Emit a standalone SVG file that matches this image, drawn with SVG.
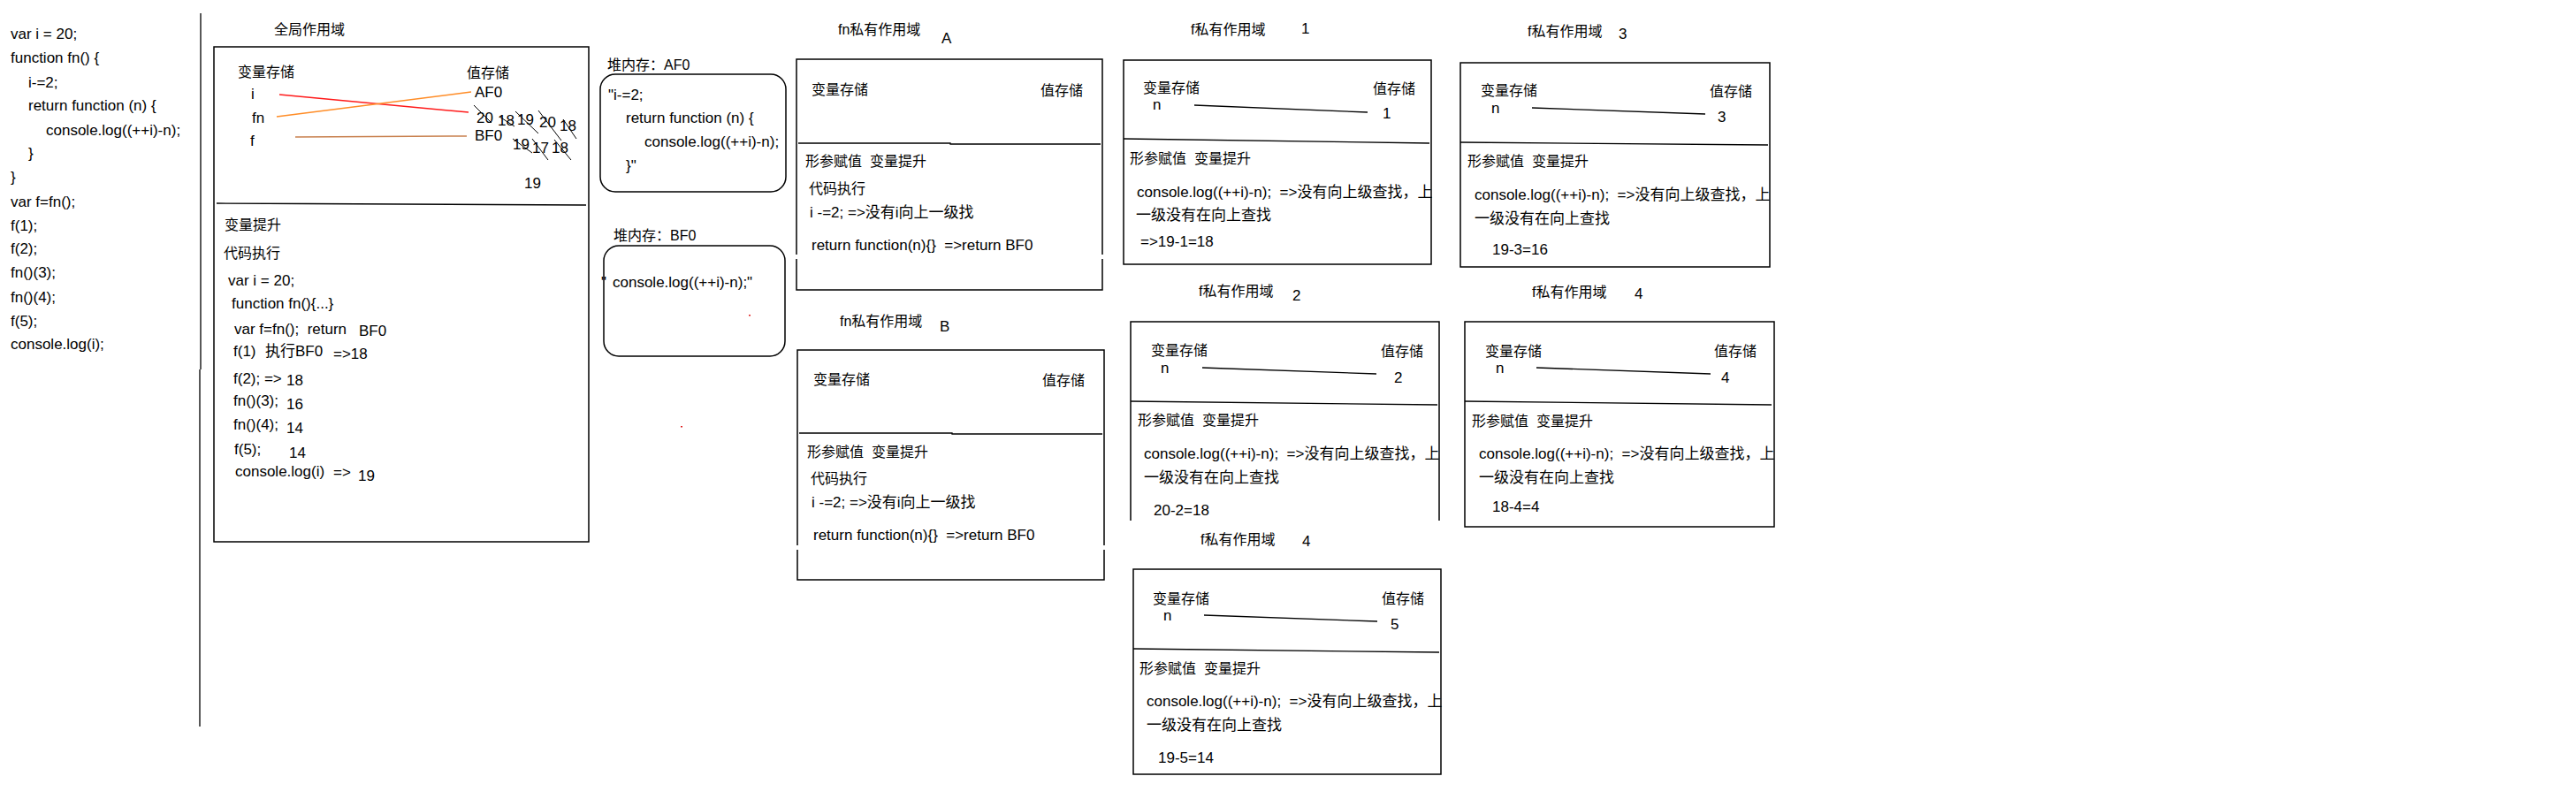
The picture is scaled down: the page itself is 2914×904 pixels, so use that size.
<svg xmlns="http://www.w3.org/2000/svg" width="2914" height="904" viewBox="0 0 2914 904" xml:space="preserve">
<style>
text{font-family:"Liberation Sans","Noto Sans CJK SC",sans-serif;font-size:17px;fill:#000;white-space:pre}
.c{font-size:16px}
.box{fill:none;stroke:#000;stroke-width:1.5}
.ln{fill:none;stroke:#000;stroke-width:1.3}
.st{stroke:#000;stroke-width:1}
</style>
<rect width="2914" height="904" fill="#fff"/>

<g id="code">
<text x="12" y="44">var i = 20;</text>
<text x="12" y="71">function fn() {</text>
<text x="32" y="99">i-=2;</text>
<text x="32" y="125">return function (n) {</text>
<text x="52" y="153">console.log((++i)-n);</text>
<text x="32" y="179">}</text>
<text x="12" y="206">}</text>
<text x="12" y="234">var f=fn();</text>
<text x="12" y="261">f(1);</text>
<text x="12" y="287">f(2);</text>
<text x="12" y="314">fn()(3);</text>
<text x="12" y="342">fn()(4);</text>
<text x="12" y="369">f(5);</text>
<text x="12" y="395">console.log(i);</text>
</g>
<g id="divider">
<path class="ln" d="M227 15V418M226 418V822"/>
</g>

<g id="global">
<text class="c" x="310" y="39">全局作用域</text>
<rect class="box" x="242" y="53" width="424" height="560"/>
<polyline class="ln" points="245,230 350,230.5 558,231.5 663,232"/>
<text class="c" x="269" y="87">变量存储</text>
<text class="c" x="528" y="88">值存储</text>
<text x="284" y="112">i</text>
<text x="285" y="139">fn</text>
<text x="283" y="165">f</text>
<text x="537" y="110">AF0</text>
<text x="537" y="159">BF0</text>
<text x="539" y="139">20</text>
<text x="563" y="142">18</text>
<text x="585" y="141">19</text>
<text x="610" y="144">20</text>
<text x="633" y="148">18</text>
<text x="580" y="169">19</text>
<text x="602" y="173">17</text>
<text x="624" y="173">18</text>
<text x="593" y="213">19</text>
<g class="st">
<line x1="536" y1="119" x2="556" y2="139"/>
<line x1="565" y1="132" x2="582" y2="143"/>
<line x1="583" y1="126" x2="609" y2="151"/>
<line x1="609" y1="125" x2="635" y2="159"/>
<line x1="637" y1="135" x2="652" y2="157"/>
<line x1="580" y1="157" x2="602" y2="173"/>
<line x1="602" y1="157" x2="620" y2="181"/>
<line x1="627" y1="158" x2="646" y2="181"/>
</g>
<text class="c" x="254" y="260">变量提升</text>
<text class="c" x="253" y="292">代码执行</text>
<text x="258" y="323">var i = 20;</text>
<text x="262" y="349">function fn(){...}</text>
<text x="265" y="378">var f=fn();  return</text>
<text x="406" y="380">BF0</text>
<text x="264" y="403">f(1)</text>
<text x="300" y="403">执行BF0</text>
<text x="377" y="406">=&gt;18</text>
<text x="264" y="434">f(2); =&gt;</text>
<text x="324" y="436">18</text>
<text x="264" y="459">fn()(3);</text>
<text x="324" y="463">16</text>
<text x="264" y="486">fn()(4);</text>
<text x="324" y="490">14</text>
<text x="265" y="514">f(5);</text>
<text x="327" y="518">14</text>
<text x="266" y="539">console.log(i)</text>
<text x="377" y="540">=&gt;</text>
<text x="405" y="544">19</text>
</g>

<g id="connectors">
<line x1="316" y1="107" x2="530" y2="127" stroke="#ff1a1a" stroke-width="1.5"/>
<line x1="313" y1="132" x2="533" y2="104" stroke="#ff8c26" stroke-width="1.5"/>
<line x1="334" y1="155" x2="528" y2="154" stroke="#c8804e" stroke-width="1.5"/>
<line x1="1351" y1="119" x2="1547" y2="127" stroke="#000" stroke-width="1.3"/>
<line x1="1360" y1="416" x2="1557" y2="423" stroke="#000" stroke-width="1.3"/>
<line x1="1362" y1="696" x2="1558" y2="703" stroke="#000" stroke-width="1.3"/>
<line x1="1733" y1="122" x2="1929" y2="129" stroke="#000" stroke-width="1.3"/>
<line x1="1738" y1="416" x2="1935" y2="423" stroke="#000" stroke-width="1.3"/>
</g>

<g id="heapAF0">
<text class="c" x="687" y="79">堆内存：AF0</text>
<rect class="box" x="679" y="84" width="210" height="133" rx="17"/>
<text x="688" y="113">"i-=2;</text>
<text x="708" y="139">return function (n) {</text>
<text x="729" y="166">console.log((++i)-n);</text>
<text x="708" y="193">}"</text>
</g>
<g id="heapBF0">
<text class="c" x="694" y="272">堆内存：BF0</text>
<rect class="box" x="683" y="278" width="205" height="125" rx="17"/>
<text x="680" y="325" fill="#5a1010">"</text>
<text x="693" y="325">console.log((++i)-n);"</text>
<rect x="847" y="356" width="2" height="1.5" fill="#e02020"/>
<rect x="770" y="482" width="2" height="1.5" fill="#e02020"/>
</g>

<g id="fnA">
<text class="c" x="948" y="39">fn私有作用域</text>
<text x="1065" y="49">A</text>
<path class="box" d="M901 288V67H1247V288M901 293V328H1247V293"/>
<polyline class="ln" points="903,162 1075,162 1075,163 1245,163"/>
<text class="c" x="918" y="107">变量存储</text>
<text class="c" x="1177" y="108">值存储</text>
<text class="c" x="911" y="188">形参赋值  变量提升</text>
<text class="c" x="915" y="219">代码执行</text>
<text x="916" y="246">i -=2; =&gt;没有i向上一级找</text>
<text x="918" y="283">return function(n){}  =&gt;return BF0</text>
</g>

<g id="fnB">
<text class="c" x="950" y="369">fn私有作用域</text>
<text x="1063" y="375">B</text>
<path class="box" d="M902 617V396H1249V617M902 622V656H1249V622"/>
<polyline class="ln" points="904,490 1077,490 1077,491 1247,491"/>
<text class="c" x="920" y="435">变量存储</text>
<text class="c" x="1179" y="436">值存储</text>
<text class="c" x="913" y="517">形参赋值  变量提升</text>
<text class="c" x="917" y="547">代码执行</text>
<text x="918" y="574">i -=2; =&gt;没有i向上一级找</text>
<text x="920" y="611">return function(n){}  =&gt;return BF0</text>
</g>

<g id="f1">
<text class="c" x="1347" y="39">f私有作用域</text>
<text x="1472" y="38">1</text>
<rect class="box" x="1271" y="68" width="348" height="231"/>
<text class="c" x="1293" y="105">变量存储</text>
<text x="1304" y="124">n</text>
<text class="c" x="1553" y="106">值存储</text>
<text x="1564" y="134">1</text>
<line class="ln" x1="1271" y1="157" x2="1617" y2="162"/>
<text class="c" x="1278" y="185">形参赋值  变量提升</text>
<text x="1286" y="223">console.log((++i)-n);  =&gt;没有向上级查找，上</text>
<text x="1285" y="249">一级没有在向上查找</text>
<text x="1290" y="279">=&gt;19-1=18</text>
</g>

<g id="f2">
<text class="c" x="1356" y="335">f私有作用域</text>
<text x="1462" y="340">2</text>
<path class="box" d="M1279 589V364H1628V589"/>
<text class="c" x="1302" y="402">变量存储</text>
<text x="1313" y="422">n</text>
<text class="c" x="1562" y="403">值存储</text>
<text x="1577" y="433">2</text>
<line class="ln" x1="1279" y1="454" x2="1626" y2="458"/>
<text class="c" x="1287" y="481">形参赋值  变量提升</text>
<text x="1294" y="519">console.log((++i)-n);  =&gt;没有向上级查找，上</text>
<text x="1294" y="546">一级没有在向上查找</text>
<text x="1305" y="583">20-2=18</text>
</g>

<g id="f5">
<text class="c" x="1358" y="616">f私有作用域</text>
<text x="1473" y="618">4</text>
<rect class="box" x="1282" y="644" width="348" height="232"/>
<text class="c" x="1304" y="683">变量存储</text>
<text x="1316" y="702">n</text>
<text class="c" x="1563" y="683">值存储</text>
<text x="1573" y="712">5</text>
<line class="ln" x1="1282" y1="734" x2="1628" y2="738"/>
<text class="c" x="1289" y="762">形参赋值  变量提升</text>
<text x="1297" y="799">console.log((++i)-n);  =&gt;没有向上级查找，上</text>
<text x="1297" y="826">一级没有在向上查找</text>
<text x="1310" y="863">19-5=14</text>
</g>

<g id="f3">
<text class="c" x="1728" y="41">f私有作用域</text>
<text x="1831" y="44">3</text>
<rect class="box" x="1652" y="71" width="350" height="231"/>
<text class="c" x="1675" y="108">变量存储</text>
<text x="1687" y="128">n</text>
<text class="c" x="1934" y="109">值存储</text>
<text x="1943" y="138">3</text>
<line class="ln" x1="1652" y1="161" x2="2000" y2="164"/>
<text class="c" x="1660" y="188">形参赋值  变量提升</text>
<text x="1668" y="226">console.log((++i)-n);  =&gt;没有向上级查找，上</text>
<text x="1668" y="253">一级没有在向上查找</text>
<text x="1688" y="288">19-3=16</text>
</g>

<g id="f4">
<text class="c" x="1733" y="336">f私有作用域</text>
<text x="1849" y="338">4</text>
<rect class="box" x="1657" y="364" width="350" height="232"/>
<text class="c" x="1680" y="403">变量存储</text>
<text x="1692" y="422">n</text>
<text class="c" x="1939" y="403">值存储</text>
<text x="1947" y="433">4</text>
<line class="ln" x1="1657" y1="454" x2="2004" y2="458"/>
<text class="c" x="1665" y="482">形参赋值  变量提升</text>
<text x="1673" y="519">console.log((++i)-n);  =&gt;没有向上级查找，上</text>
<text x="1673" y="546">一级没有在向上查找</text>
<text x="1688" y="579">18-4=4</text>
</g>
</svg>
